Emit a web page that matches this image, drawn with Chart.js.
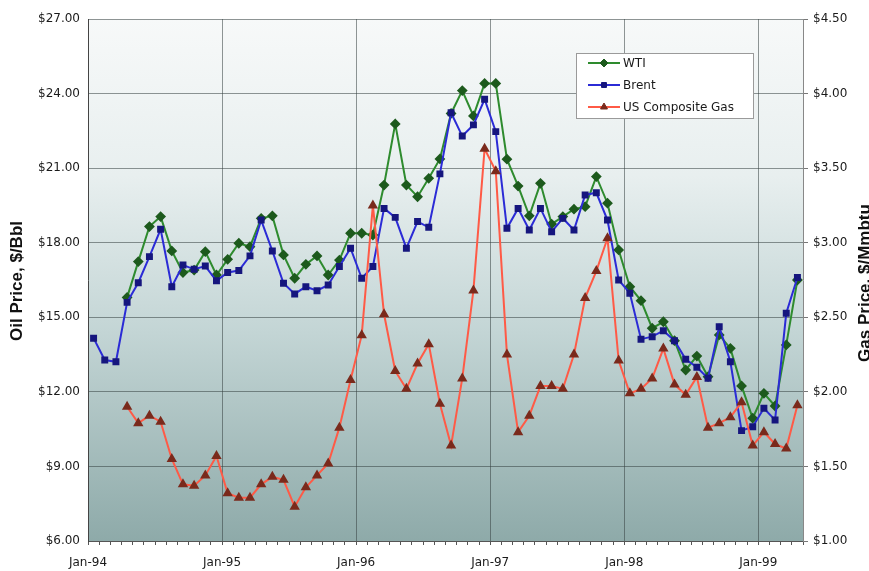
<!DOCTYPE html>
<html><head><meta charset="utf-8">
<script src="https://cdn.jsdelivr.net/npm/chart.js@4.4.1/dist/chart.umd.min.js"></script>
<style>html,body{margin:0;padding:0;background:#fff;}#wrap{width:869px;height:571px;position:relative;}</style>
</head><body><div id="wrap"><canvas id="c" width="869" height="571"></canvas></div>
<script>
// Monthly categories Jan-94 .. Apr-99
const months = [
 'Jan-94','Feb-94','Mar-94','Apr-94','May-94','Jun-94','Jul-94','Aug-94','Sep-94','Oct-94','Nov-94','Dec-94',
 'Jan-95','Feb-95','Mar-95','Apr-95','May-95','Jun-95','Jul-95','Aug-95','Sep-95','Oct-95','Nov-95','Dec-95',
 'Jan-96','Feb-96','Mar-96','Apr-96','May-96','Jun-96','Jul-96','Aug-96','Sep-96','Oct-96','Nov-96','Dec-96',
 'Jan-97','Feb-97','Mar-97','Apr-97','May-97','Jun-97','Jul-97','Aug-97','Sep-97','Oct-97','Nov-97','Dec-97',
 'Jan-98','Feb-98','Mar-98','Apr-98','May-98','Jun-98','Jul-98','Aug-98','Sep-98','Oct-98','Nov-98','Dec-98',
 'Jan-99','Feb-99','Mar-99','Apr-99'];
const yearTicks = ['Jan-94','Jan-95','Jan-96','Jan-97','Jan-98','Jan-99'];

const wti = [null,null,null,15.80,17.24,18.65,19.05,17.67,16.80,16.90,17.64,16.70,
 17.33,17.98,17.84,18.98,19.08,17.51,16.57,17.13,17.47,16.70,17.30,18.38,
 18.38,18.31,20.32,22.78,20.32,19.85,20.59,21.37,23.20,24.12,23.10,24.41,
 24.41,21.36,20.28,19.08,20.39,18.75,19.05,19.35,19.45,20.66,19.59,17.71,
 16.23,15.67,14.56,14.82,14.06,12.88,13.44,12.61,14.29,13.75,12.24,10.94,
 11.94,11.43,13.89,16.50];
const brent = [14.16,13.28,13.21,15.60,16.39,17.44,18.54,16.23,17.10,16.93,17.06,16.47,
 16.80,16.88,17.47,18.91,17.67,16.37,15.94,16.23,16.07,16.30,17.04,17.78,
 16.57,17.04,19.38,19.02,17.78,18.85,18.62,20.77,23.23,22.29,22.74,23.77,
 22.47,18.58,19.38,18.51,19.38,18.44,18.98,18.51,19.92,20.01,18.91,16.50,
 15.97,14.12,14.22,14.46,14.06,13.31,12.99,12.55,14.62,13.21,10.44,10.60,
 11.34,10.87,15.16,16.60];
const gas = [null,null,null,1.90,1.79,1.84,1.80,1.55,1.38,1.37,1.44,1.57,
 1.32,1.29,1.29,1.38,1.43,1.41,1.23,1.36,1.44,1.52,1.76,2.08,
 2.38,3.25,2.52,2.14,2.02,2.19,2.32,1.92,1.64,2.09,2.68,3.63,
 3.48,2.25,1.73,1.84,2.04,2.04,2.02,2.25,2.63,2.81,3.03,2.21,
 1.99,2.02,2.09,2.29,2.05,1.98,2.10,1.76,1.79,1.83,1.93,1.64,
 1.73,1.65,1.62,1.91];

const seriesNames = ['WTI','Brent','US Composite Gas'];

const toPts = arr => months.map((m,i)=>({x:i+0.5, y:arr[i]}));
const gridColor = 'rgba(55,65,65,0.55)';
const tickFont = {family:'DejaVu Sans', size:12};

const bgPlugin = {
  id:'bg',
  beforeDraw(chart){
    const {ctx, chartArea:a} = chart;
    const g = ctx.createLinearGradient(0,a.top,0,a.bottom);
    g.addColorStop(0,'#f7f9f9');
    g.addColorStop(0.3,'#e8efef');
    g.addColorStop(0.6,'#c3d5d5');
    g.addColorStop(1,'#8eaaa9');
    ctx.save(); ctx.fillStyle=g; ctx.fillRect(a.left,a.top,a.right-a.left,a.bottom-a.top); ctx.restore();
  }
};

const decoPlugin = {
  id:'deco',
  afterDraw(chart){
    const {ctx, chartArea:a} = chart;
    ctx.save();
    ctx.fillStyle='#111';
    ctx.font='bold 17px "Liberation Sans", Arial, sans-serif';
    ctx.textAlign='center'; ctx.textBaseline='middle';
    const cy=(a.top+a.bottom)/2+1;
    ctx.save(); ctx.translate(17,cy); ctx.rotate(-Math.PI/2); ctx.fillText('Oil Price, $/Bbl',0,0); ctx.restore();
    ctx.save(); ctx.translate(865,cy+2); ctx.rotate(-Math.PI/2); ctx.fillText('Gas Price, $/Mmbtu',0,0); ctx.restore();
    // legend
    const lx=a.left+488, ly=a.top+34, lw=177, lh=65;
    ctx.fillStyle='#fff'; ctx.fillRect(lx,ly,lw,lh);
    ctx.strokeStyle='#9a9a9a'; ctx.lineWidth=1; ctx.strokeRect(lx+0.5,ly+0.5,lw,lh);
    const ds = chart.data.datasets;
    ctx.font='12px "DejaVu Sans", sans-serif'; ctx.textAlign='left';
    for(let i=0;i<ds.length;i++){
      const y=ly+10+i*22;
      ctx.strokeStyle=ds[i].borderColor; ctx.lineWidth=2;
      ctx.beginPath(); ctx.moveTo(lx+12,y); ctx.lineTo(lx+44,y); ctx.stroke();
      ctx.fillStyle=ds[i].pointBackgroundColor; ctx.strokeStyle=ds[i].pointBorderColor; ctx.lineWidth=1;
      Chart.helpers.drawPoint(ctx,{pointStyle:ds[i].pointStyle,radius:ds[i].pointRadius,rotation:0,borderWidth:1},lx+28,y);
      ctx.fillStyle='#1a1a1a';
      ctx.fillText(seriesNames[i],lx+47,y+1);
    }
    ctx.restore();
  }
};

new Chart(document.getElementById('c'),{
  type:'line',
  data:{datasets:[
    {label:seriesNames[0],data:toPts(wti),yAxisID:'y',borderColor:'#2e8b2e',borderWidth:2,
     pointStyle:'rectRot',pointRadius:4,pointBackgroundColor:'#1d5a1d',pointBorderColor:'#1d5a1d',order:2,tension:0},
    {label:seriesNames[1],data:toPts(brent),yAxisID:'y',borderColor:'#2b2bd6',borderWidth:2,
     pointStyle:'rect',pointRadius:3.5,pointBackgroundColor:'#16167e',pointBorderColor:'#16167e',order:1,tension:0},
    {label:seriesNames[2],data:toPts(gas),yAxisID:'y2',borderColor:'#ff5a46',borderWidth:2,
     pointStyle:'triangle',pointRadius:4,pointBackgroundColor:'#7a2a1c',pointBorderColor:'#7a2a1c',order:0,tension:0}
  ]},
  options:{
    responsive:false, animation:false, devicePixelRatio:1,
    layout:{padding:{top:19,left:0,right:0,bottom:0}},
    plugins:{legend:{display:false},tooltip:{enabled:false}},
    scales:{
      x:{type:'linear',min:0,max:months.length,
        afterFit(s){s.height=30;},
        ticks:{stepSize:1,autoSkip:false,maxRotation:0,minRotation:0,maxTicksLimit:1000,padding:11,
          font:tickFont,color:'#1a1a1a',
          callback:v=> (v%12===0 ? yearTicks[v/12] : '')},
        grid:{color:c=>(c.tick && c.tick.value%12===0 && c.tick.value>0 && c.tick.value<months.length)?gridColor:'rgba(0,0,0,0)',
          tickColor:'#555',tickLength:4,lineWidth:1},
        border:{display:true,color:'#555'}},
      y:{position:'left',min:6,max:27,
        afterFit(s){s.width=88;},
        ticks:{stepSize:3,padding:8,font:tickFont,color:'#1a1a1a',callback:v=>'$'+v.toFixed(2)},
        grid:{color:gridColor,drawTicks:false},
        border:{display:true,color:'#444'}},
      y2:{position:'right',min:1,max:4.5,
        afterFit(s){s.width=66;},
        ticks:{stepSize:0.5,padding:5,font:tickFont,color:'#1a1a1a',callback:v=>'$'+v.toFixed(2)},
        grid:{drawOnChartArea:false,tickLength:5,tickColor:'#777'},
        border:{display:true,color:'#888'}}
    }
  },
  plugins:[bgPlugin,decoPlugin]
});
</script></body></html>
